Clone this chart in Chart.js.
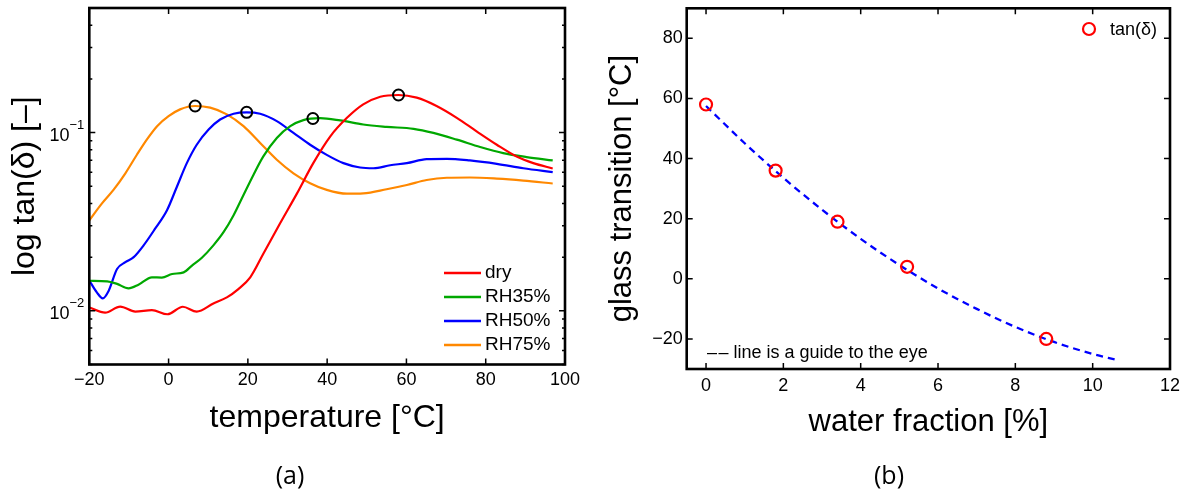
<!DOCTYPE html>
<html>
<head>
<meta charset="utf-8">
<script src="https://cdn.jsdelivr.net/npm/chart.js@4/dist/chart.umd.min.js"></script>
<style>
  body { margin: 0; background: #fff; width: 1189px; height: 493px; position: relative; overflow: hidden; }
  canvas { position: absolute; top: 0; }
  #chartA { left: 0; }
  #chartB { left: 595px; }
  .caption { position: absolute; top: 457px; font-family: "Open Sans", sans-serif; font-size: 25px; transform: translateX(-50%); }
</style>
</head>
<body>
<canvas id="chartA" width="595" height="493" style="width:595px;height:493px"></canvas>
<canvas id="chartB" width="594" height="493" style="width:594px;height:493px"></canvas>
<div class="caption" style="left:290px">(a)</div>
<div class="caption" style="left:889px">(b)</div>
<script>
// (a) tan(delta) vs temperature
const dryT = [-20, -16, -12.2, -8.4, -4.2, -0.3, 3.6, 7.1, 11.3, 14.7, 17.6, 20.6, 23.9, 28.1, 32.4, 36.5, 40.8, 45, 49.1, 53.4, 58, 62.6, 67.6, 72.7, 77.7, 82.8, 87.8, 92, 96.9];
const dryTan = [0.01045, 0.00977, 0.01057, 0.0099, 0.0101, 0.00957, 0.01054, 0.0099, 0.011, 0.0119, 0.01325, 0.01542, 0.0209, 0.0309, 0.0456, 0.0674, 0.0953, 0.121, 0.144, 0.159, 0.1625, 0.157, 0.141, 0.121, 0.1016, 0.0855, 0.0734, 0.0674, 0.0629];

const rh35T = [-20, -15.5, -13, -10.1, -7.6, -4.2, -1.7, 0.9, 3.8, 5.9, 8.4, 11.3, 13.9, 16.4, 18.9, 21.4, 23.9, 27.3, 30.7, 34, 38.2, 43.3, 49.1, 55, 61.8, 66.8, 72.7, 78.6, 84.4, 90.3, 96.9];
const rh35Tan = [0.01475, 0.01465, 0.01416, 0.01337, 0.01402, 0.01542, 0.01536, 0.0161, 0.01644, 0.01794, 0.01986, 0.0233, 0.0277, 0.0344, 0.0447, 0.0579, 0.0735, 0.0933, 0.1086, 0.1175, 0.1205, 0.117, 0.111, 0.1077, 0.105, 0.0996, 0.0913, 0.083, 0.0767, 0.0729, 0.0698];

const rh50T = [-20, -18.1, -16.6, -15.1, -13, -10.9, -8.8, -6.3, -3.4, -0.4, 2.1, 4.6, 7.1, 10.1, 13, 16.4, 19.7, 23.1, 27.3, 31.5, 35.7, 39.9, 44.1, 48.3, 51.7, 55.9, 60.1, 65.1, 70.2, 76, 82.8, 89.5, 96.9];
const rh50Tan = [0.0148, 0.0127, 0.01175, 0.01298, 0.01717, 0.01874, 0.02, 0.0233, 0.0289, 0.0367, 0.0497, 0.0674, 0.0855, 0.104, 0.1184, 0.1276, 0.130, 0.1276, 0.116, 0.0996, 0.0855, 0.075, 0.0674, 0.0637, 0.0631, 0.0656, 0.0674, 0.071, 0.0713, 0.0698, 0.0668, 0.0631, 0.06];

const rh75T = [-20, -16.8, -13.9, -10.9, -8, -5.5, -2.9, 0, 2.9, 6.7, 10.5, 14.7, 18.9, 23.1, 27.3, 31.5, 35.7, 39.9, 45, 49.1, 55, 60.1, 65.1, 70.2, 76, 82.8, 89.5, 96.9];
const rh75Tan = [0.0322, 0.0401, 0.0477, 0.0591, 0.0751, 0.0913, 0.1086, 0.1236, 0.135, 0.141, 0.138, 0.1265, 0.1086, 0.0875, 0.0704, 0.0591, 0.052, 0.0477, 0.0454, 0.0456, 0.0481, 0.0508, 0.0542, 0.0558, 0.056, 0.0552, 0.0538, 0.0518];

// peak markers
const peakT = [58, 36.4, 19.7, 6.7];
const peakTan = [0.1625, 0.12, 0.130, 0.141];

const tempTicks = [-20, 0, 20, 40, 60, 80, 100];
const tanTicks = [0.005, 0.006, 0.007, 0.008, 0.009, 0.01, 0.02, 0.03, 0.04, 0.05, 0.06, 0.07, 0.08, 0.09, 0.1, 0.2, 0.3, 0.4, 0.5];
const tanExponents = { 0.01: "\u22122", 0.1: "\u22121" };

// (b) glass transition vs water fraction
const waterFrac = [0, 1.8, 3.4, 5.2, 8.8];
const glassT = [58, 36, 19, 4, -20];
const guideX = [0, 1, 2, 3, 4, 5, 6, 7, 8, 9, 10, 10.6];
const guideY = [57.5, 45.1, 33.6, 23.0, 13.3, 4.6, -3.2, -10.0, -16.0, -21.0, -25.0, -26.9];
const waterTicks = [0, 2, 4, 6, 8, 10, 12];
const glassTicks = [-20, 0, 20, 40, 60, 80];

const FONT = "'Liberation Sans', Arial, sans-serif";
const pairs = (xs, ys) => xs.map((x, i) => ({ x: x, y: ys[i] }));
const minus = v => (v < 0 ? "\u2212" + Math.abs(v) : String(v));

// matlab style box with inward ticks on all four sides
const boxPlugin = {
  id: "boxTicks",
  afterDraw(chart) {
    const { ctx, chartArea: a } = chart;
    const xs = chart.scales.x, ys = chart.scales.y;
    ctx.save();
    ctx.strokeStyle = "#000";
    ctx.lineWidth = 1.5;
    ctx.beginPath();
    xs.ticks.forEach(t => {
      const p = xs.getPixelForValue(t.value);
      const len = t.label === "" ? 3 : 6;
      ctx.moveTo(p, a.bottom); ctx.lineTo(p, a.bottom - len);
      ctx.moveTo(p, a.top); ctx.lineTo(p, a.top + len);
    });
    ys.ticks.forEach(t => {
      const p = ys.getPixelForValue(t.value);
      const len = t.label === "" ? 3 : 6;
      ctx.moveTo(a.left, p); ctx.lineTo(a.left + len, p);
      ctx.moveTo(a.right, p); ctx.lineTo(a.right - len, p);
    });
    ctx.stroke();
    ctx.lineWidth = 2.6;
    ctx.strokeRect(a.left, a.top, a.right - a.left, a.bottom - a.top);

    const opts = chart.options.plugins.boxTicks || {};
    ctx.fillStyle = "#000";
    if (opts.legend === "lines") {
      // log tick labels as 10 with a raised exponent
      ys.ticks.forEach(t => {
        if (t.label === "") return;
        const p = ys.getPixelForValue(t.value);
        ctx.textAlign = "right";
        ctx.textBaseline = "middle";
        ctx.font = "13px " + FONT;
        ctx.fillText(tanExponents[t.value], a.left - 5, p - 7);
        const ew = ctx.measureText(tanExponents[t.value]).width;
        ctx.font = "18px " + FONT;
        ctx.fillText("10", a.left - 5 - ew, p + 3);
      });
      ctx.textAlign = "left";
      ctx.font = "19px " + FONT;
      chart.data.datasets.filter(d => d.label).forEach((d, i) => {
        const y = 273 + i * 24;
        ctx.strokeStyle = d.borderColor;
        ctx.lineWidth = 2.4;
        ctx.beginPath(); ctx.moveTo(444, y); ctx.lineTo(481, y); ctx.stroke();
        ctx.fillText(d.label, 485, y);
      });
    }
    if (opts.legend === "marker") {
      ctx.strokeStyle = "#ff0000";
      ctx.lineWidth = 2.2;
      ctx.beginPath(); ctx.arc(494, 29, 6, 0, Math.PI * 2); ctx.stroke();
      ctx.font = "18px " + FONT;
      ctx.textBaseline = "middle";
      ctx.textAlign = "left";
      ctx.fillText("tan(\u03B4)", 515, 30);
      ctx.fillText("\u2013\u200A\u2013 line is a guide to the eye", 112, 353);
    }
    ctx.restore();
  }
};

// keep label overhang from pushing the plot box around
const noPadY = s => { s.paddingTop = 0; s.paddingBottom = 0; };

new Chart(document.getElementById("chartA"), {
  type: "line",
  data: {
    datasets: [
      { data: pairs(peakT, peakTan), showLine: false, pointRadius: 5.5, pointBorderWidth: 2, pointBorderColor: "#000", pointBackgroundColor: "rgba(0,0,0,0)", borderColor: "#000" },
      { label: "dry", data: pairs(dryT, dryTan), borderColor: "#ff0000" },
      { label: "RH35%", data: pairs(rh35T, rh35Tan), borderColor: "#00a800" },
      { label: "RH50%", data: pairs(rh50T, rh50Tan), borderColor: "#0000ff" },
      { label: "RH75%", data: pairs(rh75T, rh75Tan), borderColor: "#ff8800" }
    ]
  },
  options: {
    responsive: false,
    animation: false,
    devicePixelRatio: 1,
    layout: { padding: { top: 8, right: 30, left: 0, bottom: 0 } },
    elements: {
      line: { borderWidth: 2.2, cubicInterpolationMode: "monotone", fill: false },
      point: { radius: 0 }
    },
    plugins: { legend: { display: false }, tooltip: { enabled: false }, boxTicks: { legend: "lines" } },
    scales: {
      x: {
        type: "linear", min: -20, max: 100,
        afterBuildTicks: s => { s.ticks = tempTicks.map(v => ({ value: v })); },
        afterFit: s => { s.height = 128.5; },
        grid: { display: false, drawTicks: false }, border: { display: false },
        ticks: { padding: 5, maxRotation: 0, autoSkip: false, color: "#000", font: { family: FONT, size: 18 }, callback: minus },
        title: { display: true, text: "temperature [\u00B0C]", color: "#000", font: { family: FONT, size: 32 }, padding: { top: 0, bottom: 56 } }
      },
      y: {
        type: "logarithmic", min: 0.005, max: 0.5,
        afterBuildTicks: s => { s.ticks = tanTicks.map(v => ({ value: v })); },
        afterFit: s => { s.width = 89.3; noPadY(s); },
        grid: { display: false, drawTicks: false }, border: { display: false },
        ticks: { display: false, autoSkip: false, callback: v => (tanExponents[v] ? "10" + tanExponents[v] : "") },
        title: { display: true, text: "log tan(\u03B4) [\u2013]", color: "#000", font: { family: FONT, size: 32 }, padding: { top: 6.3, bottom: 0 } }
      }
    }
  },
  plugins: [boxPlugin]
});

new Chart(document.getElementById("chartB"), {
  type: "line",
  data: {
    datasets: [
      { data: pairs(waterFrac, glassT), showLine: false, pointRadius: 6, pointBorderWidth: 2.2, pointBorderColor: "#ff0000", pointBackgroundColor: "rgba(0,0,0,0)", borderColor: "#ff0000" },
      { data: pairs(guideX, guideY), borderColor: "#0000ff", borderWidth: 2.3, borderDash: [7, 5], pointRadius: 0, cubicInterpolationMode: "monotone" }
    ]
  },
  options: {
    responsive: false,
    animation: false,
    devicePixelRatio: 1,
    layout: { padding: { top: 8.3, right: 19, left: 0, bottom: 0 } },
    plugins: { legend: { display: false }, tooltip: { enabled: false }, boxTicks: { legend: "marker" } },
    scales: {
      x: {
        type: "linear", min: -0.5, max: 12,
        afterBuildTicks: s => { s.ticks = waterTicks.map(v => ({ value: v })); },
        afterFit: s => { s.height = 124; },
        grid: { display: false, drawTicks: false }, border: { display: false },
        ticks: { padding: 6, maxRotation: 0, autoSkip: false, color: "#000", font: { family: FONT, size: 18 } },
        title: { display: true, text: "water fraction [%]", color: "#000", font: { family: FONT, size: 31 }, padding: { top: 0, bottom: 52 } }
      },
      y: {
        type: "linear", min: -30, max: 90,
        afterBuildTicks: s => { s.ticks = glassTicks.map(v => ({ value: v })); },
        afterFit: s => { s.width = 91.7; noPadY(s); },
        grid: { display: false, drawTicks: false }, border: { display: false },
        ticks: { padding: 4, autoSkip: false, color: "#000", font: { family: FONT, size: 18 }, callback: minus },
        title: { display: true, text: "glass transition [\u00B0C]", color: "#000", font: { family: FONT, size: 31 }, padding: { top: 8.9, bottom: 0 } }
      }
    }
  },
  plugins: [boxPlugin]
});
</script>
</body>
</html>
